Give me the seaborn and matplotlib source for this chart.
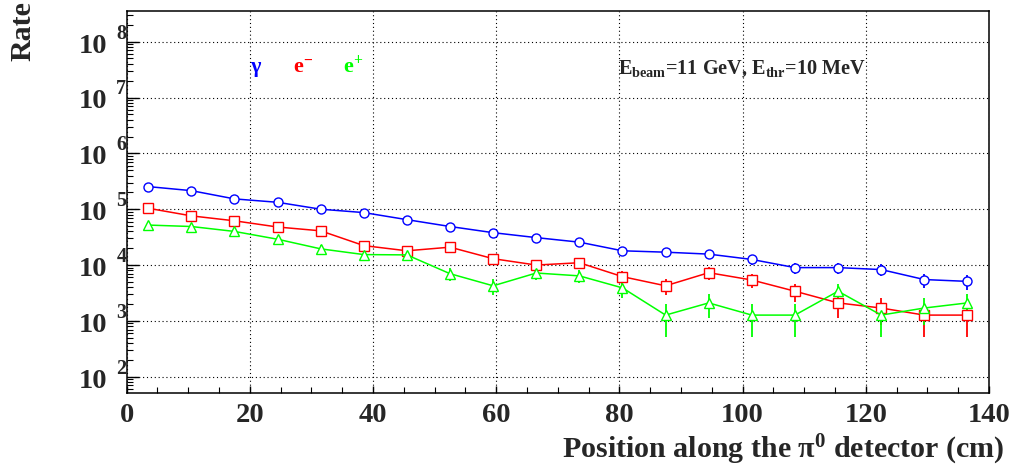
import numpy as np
import pandas as pd
import matplotlib
matplotlib.use('Agg')
import matplotlib.pyplot as plt
import seaborn as sns
from matplotlib.ticker import LogLocator, MultipleLocator, NullFormatter

# bin centres along the detector (cm)
position = [3.5, 10.5, 17.5, 24.5, 31.5, 38.5, 45.5, 52.5, 59.5, 66.5,
            73.5, 80.5, 87.5, 94.5, 101.5, 108.5, 115.5, 122.5, 129.5, 136.5]

# rates
rate_gamma = [2.54e5, 2.15e5, 1.53e5, 1.33e5, 1.00e5, 8.7e4, 6.5e4, 4.9e4, 3.8e4, 3.1e4,
              2.57e4, 1.8e4, 1.7e4, 1.57e4, 1.26e4, 9.0e3, 9.0e3, 8.3e3, 5.5e3, 5.1e3]
err_gamma = [10700, 9800, 8300, 7700, 6700, 6250, 5400, 4700, 4100, 3700,
             3400, 2850, 2750, 2650, 2400, 2000, 2000, 1950, 1550, 1500]

rate_electron = [1.04e5, 7.6e4, 6.2e4, 4.8e4, 4.1e4, 2.23e4, 1.8e4, 2.09e4, 1.3e4, 1.0e4,
                 1.1e4, 6.2e3, 4.25e3, 7.3e3, 5.4e3, 3.4e3, 2.1e3, 1.7e3, 1.27e3, 1.27e3]
err_electron = [6850, 5850, 5300, 4650, 4300, 3150, 2850, 3050, 2400, 2100,
                2200, 1650, 1400, 1800, 1550, 1250, 950, 870, 750, 750]

rate_positron = [5.2e4, 4.9e4, 4.0e4, 2.9e4, 1.95e4, 1.54e4, 1.52e4, 7.0e3, 4.25e3, 7.2e3,
                 6.4e3, 3.9e3, 1.27e3, 2.1e3, 1.27e3, 1.27e3, 3.4e3, 1.27e3, 1.7e3, 2.1e3]
err_positron = [4850, 4700, 4250, 3600, 2950, 2650, 2600, 1800, 1400, 1800,
                1700, 1300, 750, 970, 750, 750, 1250, 750, 870, 970]

decades = [2, 3, 4, 5, 6, 7, 8]

sns.set_style('ticks')
plt.rcParams['font.family'] = ['Liberation Serif', 'DejaVu Serif']
plt.rcParams['font.weight'] = 'bold'
plt.rcParams['mathtext.fontset'] = 'custom'
plt.rcParams['mathtext.rm'] = 'Liberation Serif:bold'
plt.rcParams['mathtext.it'] = 'Liberation Serif:bold'
plt.rcParams['mathtext.bf'] = 'Liberation Serif:bold'

fig = plt.figure(figsize=(10.11, 4.67), dpi=100)
ax = fig.add_axes([0.1253, 0.1578, 0.8529, 0.8186])

series = [
    ('gamma', rate_gamma, err_gamma, '#0000ff', 'o'),
    ('electron', rate_electron, err_electron, '#ff0000', 's'),
    ('positron', rate_positron, err_positron, '#00ff00', '^'),
]

for name, rate, err, col, mk in series:
    df = pd.DataFrame({'pos': position, 'rate': rate})
    ax.errorbar(df['pos'], df['rate'], yerr=err, fmt='none', ecolor=col,
                elinewidth=1.3, capsize=0, zorder=2)
    sns.lineplot(data=df, x='pos', y='rate', ax=ax, color=col, marker=mk,
                 markersize=6.5, mfc='white', mec=col, mew=1.0, lw=1.1, zorder=3)

ax.set_yscale('log')
ax.set_xlim(0, 140)
ax.set_ylim(50.5, 3.54e8)

ax.xaxis.set_major_locator(MultipleLocator(20))
ax.xaxis.set_minor_locator(MultipleLocator(5))
ax.yaxis.set_major_locator(LogLocator(base=10, numticks=20))
ax.yaxis.set_minor_locator(LogLocator(base=10, subs=np.arange(2, 10), numticks=20))
ax.yaxis.set_major_formatter(NullFormatter())
ax.yaxis.set_minor_formatter(NullFormatter())

ax.tick_params(which='both', direction='in', top=False, right=False, color='black')
ax.tick_params(axis='y', which='major', length=8.6, width=1.0)
ax.tick_params(axis='y', which='minor', length=4.3, width=0.8)
ax.tick_params(axis='x', which='major', length=5, width=1.0, labelsize=20.5, pad=7)
ax.tick_params(axis='x', which='minor', length=4.5, width=0.8)
for lab in ax.get_xticklabels():
    lab.set_fontweight('bold')

ax.grid(True, which='major', color='black', linestyle=(0, (1, 2.5)), linewidth=0.8)
for sp in ax.spines.values():
    sp.set_color('black')
    sp.set_linewidth(1.1)

ax.set_xlabel('')
ax.set_ylabel('')

# ROOT-like log labels: "10" with the exponent up to the right
for k in decades:
    ax.annotate('10', xy=(0, 10.0 ** k), xycoords=('axes fraction', 'data'),
                xytext=(-14.2, -7.9), textcoords='offset points',
                ha='right', va='baseline', fontsize=20.5, fontweight='bold')
    ax.annotate(str(k), xy=(0, 10.0 ** k), xycoords=('axes fraction', 'data'),
                xytext=(-0.3, 2.2), textcoords='offset points',
                ha='right', va='baseline', fontsize=14.5, fontweight='bold')

ax.text(0.143, 0.840, 'γ', color='#0000ff', transform=ax.transAxes,
        fontsize=16, va='baseline', fontweight='bold')
ax.text(0.193, 0.840, r'e$^{-}$', color='#ff0000', transform=ax.transAxes,
        fontsize=16, va='baseline', fontweight='bold')
ax.text(0.251, 0.840, r'e$^{+}$', color='#00ff00', transform=ax.transAxes,
        fontsize=16, va='baseline', fontweight='bold')
ax.text(0.570, 0.837, r'E$_{\mathrm{beam}}$=11 GeV, E$_{\mathrm{thr}}$=10 MeV',
        transform=ax.transAxes, fontsize=14.6, va='baseline', fontweight='bold')

fig.text(1005 / 1011, 1 - 458 / 467, r'Position along the π$^{0}$ detector (cm)',
         ha='right', va='baseline', fontsize=21.6, fontweight='bold')
fig.text(23 / 1011, 1 - 1 / 467, 'Rate', rotation=90, ha='center', va='top',
         fontsize=21.5, fontweight='bold')

fig.savefig('out.png', dpi=100)
